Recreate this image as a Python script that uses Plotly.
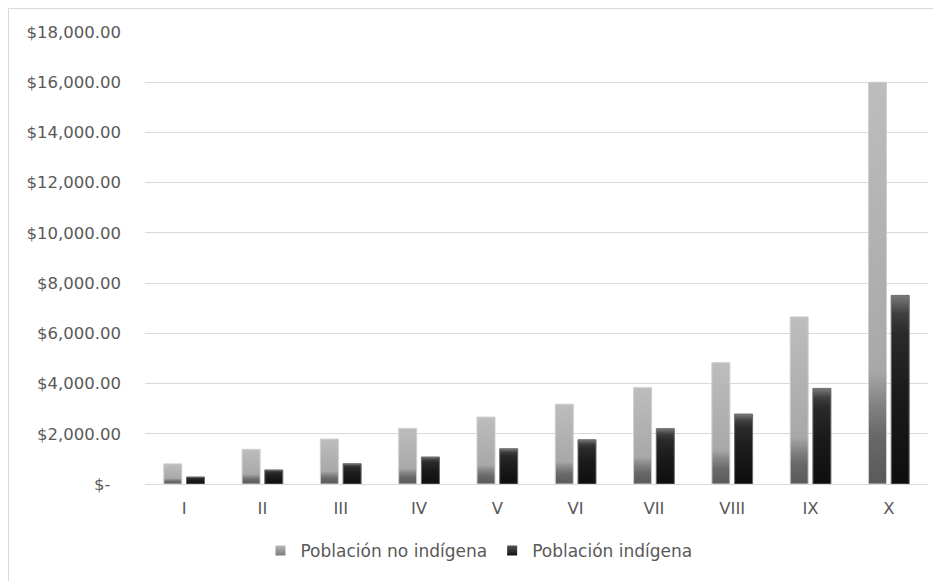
import plotly.graph_objects as go

categories = ["I", "II", "III", "IV", "V", "VI", "VII", "VIII", "IX", "X"]
no_indigena = [800, 1380, 1790, 2215, 2665, 3180, 3835, 4830, 6655, 16000]
indigena = [280, 560, 808, 1075, 1404, 1762, 2204, 2785, 3807, 7510]
series_names = ["Población no indígena", "Población indígena"]
y_tickvals = [0, 2000, 4000, 6000, 8000, 10000, 12000, 14000, 16000, 18000]
y_ticktext = ["$-\u00a0\u00a0"] + [f"${v:,.2f}" for v in y_tickvals[1:]]

TEXT = "#595959"
GRID = "#d9d9d9"
FONT = "DejaVu Sans"

light_scale = [[0, "#5a5a5a"], [0.12, "#686868"], [0.2, "#848484"],
               [0.28, "#a8a8a8"], [1, "#bdbdbd"]]
dark_scale = [[0, "#0e0e0e"], [0.5, "#1b1b1b"], [0.8, "#2a2a2a"],
              [0.9, "#3e3e3e"], [1, "#7a7a7a"]]

half_w = 0.115
offset = 0.145

fig = go.Figure()

def add_bars(values, shift, scale, line_color, name):
    for i, v in enumerate(values):
        xl = i + shift - half_w
        xr = i + shift + half_w
        fig.add_trace(go.Scatter(
            x=[xl, xl, xr, xr, xl], y=[0, v, v, 0, 0],
            mode="lines", fill="toself",
            line=dict(color=line_color, width=1),
            fillgradient=dict(type="vertical", colorscale=scale),
            name=name, legendgroup=name, showlegend=False,
            hovertemplate=f"{categories[i]}: ${v:,.2f}<extra>{name}</extra>",
        ))

add_bars(no_indigena, -offset, light_scale, "#cfcfcf", series_names[0])
add_bars(indigena, offset, dark_scale, "#6a6a6a", series_names[1])

# legend entries
fig.add_trace(go.Scatter(
    x=[None], y=[None], mode="markers", name=series_names[0],
    legendgroup=series_names[0],
    marker=dict(symbol="square", size=10, color="#b8b8b8",
                gradient=dict(type="vertical", color="#7a7a7a"),
                line=dict(width=0)),
))
fig.add_trace(go.Scatter(
    x=[None], y=[None], mode="markers", name=series_names[1],
    legendgroup=series_names[1],
    marker=dict(symbol="square", size=10, color="#555555",
                gradient=dict(type="vertical", color="#101010"),
                line=dict(width=0)),
))

fig.update_layout(
    width=941, height=581,
    margin=dict(l=137, r=21, t=24, b=105),
    paper_bgcolor="white", plot_bgcolor="white",
    font=dict(family=FONT, size=16.5, color=TEXT),
    showlegend=True,
    legend=dict(orientation="h", xref="container", yref="container",
                x=0.5005, y=0.0654, xanchor="center", yanchor="middle",
                font=dict(family=FONT, size=17, color=TEXT),
                itemwidth=30, traceorder="normal"),
    shapes=[dict(type="rect", xref="paper", yref="paper",
                 x0=-0.1743, x1=1.05, y0=-0.3, y1=1.052,
                 line=dict(color=GRID, width=1), fillcolor="rgba(0,0,0,0)",
                 layer="below")],
)

fig.update_xaxes(
    range=[-0.5, 9.5], tickmode="array",
    tickvals=list(range(len(categories))), ticktext=categories,
    showgrid=False, zeroline=False, showline=False,
    ticks="", ticklabelstandoff=12,
    tickfont=dict(family=FONT, size=16.5, color=TEXT),
)
fig.update_yaxes(
    range=[0, 18000], tickmode="array",
    tickvals=y_tickvals, ticktext=y_ticktext,
    showgrid=True, gridcolor=GRID, gridwidth=1,
    zeroline=True, zerolinecolor=GRID, zerolinewidth=1,
    showline=False, ticks="", ticklabelstandoff=23,
    tickfont=dict(family=FONT, size=16.5, color=TEXT),
)

fig.write_html("out.html")
